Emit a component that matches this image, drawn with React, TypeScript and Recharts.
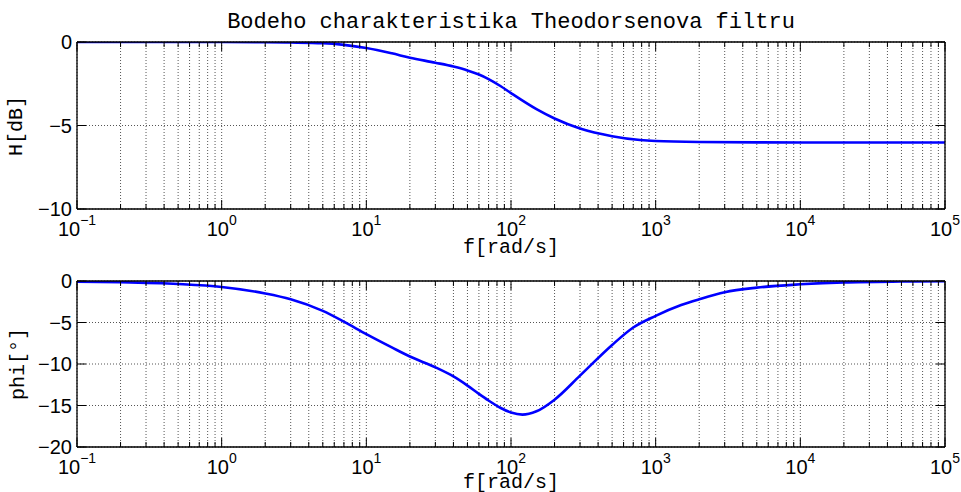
import React from 'react';
import { LineChart, Line, XAxis, YAxis, CartesianGrid } from 'recharts';

// ---- data ----
const magFreq = [0.1, 0.2, 0.5, 1, 2, 3, 5, 7, 10, 15, 20, 30, 40, 50, 60, 70, 85, 100, 150, 200, 300, 500, 780, 1000, 2000, 5000, 10000, 100000];
const magDb = [0, 0, -0.001, -0.004, -0.015, -0.03, -0.07, -0.17, -0.36, -0.68, -0.94, -1.24, -1.47, -1.7, -1.95, -2.22, -2.65, -3.06, -4.02, -4.58, -5.18, -5.64, -5.87, -5.93, -5.99, -6.01, -6.02, -6.02];

const phaseFreq = [0.1, 0.2, 0.5, 1, 2, 3, 5, 7, 10, 15, 20, 30, 40, 50, 60, 70, 85, 100, 120, 150, 200, 300, 500, 700, 1000, 1500, 2000, 3000, 5000, 10000, 20000, 50000, 100000];
const phaseDeg = [-0.07, -0.14, -0.36, -0.72, -1.5, -2.2, -3.6, -4.9, -6.4, -8.0, -9.1, -10.4, -11.5, -12.6, -13.6, -14.4, -15.3, -15.85, -16.1, -15.7, -14.3, -11.4, -7.7, -5.6, -4.2, -2.9, -2.2, -1.35, -0.8, -0.4, -0.16, -0.06, -0.03];

const xDecades = [0.1, 1, 10, 100, 1000, 10000, 100000];
const decadeExponents = ['\u22121', '0', '1', '2', '3', '4', '5'];
const minorMultipliers = [2, 3, 4, 5, 6, 7, 8, 9];
const magTicks = [-10, -5, 0];
const phaseTicks = [-20, -15, -10, -5, 0];

const titleText = 'Bodeho charakteristika Theodorsenova filtru';
const xLabelText = 'f[rad/s]';
const magLabelText = 'H[dB]';
const phaseLabelText = 'phi[\u00b0]';

// ---- derived ----
const xTicks: number[] = [];
xDecades.forEach((d, i) => {
  xTicks.push(d);
  if (i < xDecades.length - 1) minorMultipliers.forEach((m) => xTicks.push(d * m));
});

const magData = magFreq.map((f, i) => ({ f, v: magDb[i] }));
const phaseData = phaseFreq.map((f, i) => ({ f, v: phaseDeg[i] }));

const SANS = 'Liberation Sans, Arial, sans-serif';
const MONO = 'Liberation Mono, DejaVu Sans Mono, monospace';
const MAJOR = 9;
const MINOR = 5;

const fmtY = (v: number) => (v < 0 ? '\u2212' + Math.abs(v) : String(v));

const BottomTick = (props: any) => {
  const { x, y, payload } = props;
  const idx = xDecades.indexOf(payload.value);
  const major = idx >= 0;
  return (
    <g>
      <line x1={x} x2={x} y1={y} y2={y - (major ? MAJOR : MINOR)} stroke="#000" strokeWidth={1} />
      {major && (
        <text x={x} y={y + 27} textAnchor="middle" fontFamily={SANS} fontSize={20} fill="#000">
          <tspan>10</tspan>
          <tspan dy={-11.5} fontSize={14}>{decadeExponents[idx]}</tspan>
        </text>
      )}
    </g>
  );
};

const TopTick = (props: any) => {
  const { x, y, payload } = props;
  const major = xDecades.indexOf(payload.value) >= 0;
  return <line x1={x} x2={x} y1={y} y2={y + (major ? MAJOR : MINOR)} stroke="#000" strokeWidth={1} />;
};

const LeftTick = (props: any) => {
  const { x, y, payload } = props;
  return (
    <g>
      <line x1={x} x2={x + MAJOR} y1={y} y2={y} stroke="#000" strokeWidth={1} />
      <text x={x - 5} y={y} dy="0.36em" textAnchor="end" fontFamily={SANS} fontSize={20} fill="#000">
        {fmtY(payload.value)}
      </text>
    </g>
  );
};

const RightTick = (props: any) => {
  const { x, y } = props;
  return <line x1={x} x2={x - MAJOR} y1={y} y2={y} stroke="#000" strokeWidth={1} />;
};

const Panel = ({ data, yDomain, yTicks, height, margin }: any) => (
  <LineChart width={961} height={height} data={data} margin={margin}>
    <CartesianGrid stroke="#555" strokeDasharray="1 2" strokeWidth={1} />
    <XAxis
      dataKey="f"
      type="number"
      scale="log"
      domain={[0.1, 100000]}
      allowDataOverflow
      ticks={xTicks}
      interval={0}
      height={40}
      tickSize={0}
      tickMargin={0}
      tickLine={false}
      axisLine={{ stroke: '#000', strokeWidth: 1.3 }}
      tick={<BottomTick />}
    />
    <XAxis
      xAxisId="top"
      orientation="top"
      dataKey="f"
      type="number"
      scale="log"
      domain={[0.1, 100000]}
      allowDataOverflow
      ticks={xTicks}
      interval={0}
      height={1}
      tickSize={0}
      tickMargin={0}
      tickLine={false}
      axisLine={{ stroke: '#000', strokeWidth: 1.3 }}
      tick={<TopTick />}
    />
    <YAxis
      type="number"
      domain={yDomain}
      allowDataOverflow
      ticks={yTicks}
      interval={0}
      width={60}
      tickSize={0}
      tickMargin={0}
      tickLine={false}
      axisLine={{ stroke: '#000', strokeWidth: 1.3 }}
      tick={<LeftTick />}
    />
    <YAxis
      yAxisId="right"
      orientation="right"
      type="number"
      domain={yDomain}
      allowDataOverflow
      ticks={yTicks}
      interval={0}
      width={1}
      tickSize={0}
      tickMargin={0}
      tickLine={false}
      axisLine={{ stroke: '#000', strokeWidth: 1.3 }}
      tick={<RightTick />}
    />
    <Line
      dataKey="v"
      type="monotone"
      stroke="#0000ff"
      strokeWidth={2.6}
      dot={false}
      isAnimationActive={false}
    />
  </LineChart>
);

export default function App() {
  return (
    <div style={{ position: 'absolute', left: 0, top: 0, width: 961, height: 492, background: '#fff', overflow: 'hidden' }}>
      <div style={{ position: 'absolute', left: 0, top: 0 }}>
        <Panel
          data={magData}
          yDomain={[-10, 0]}
          yTicks={magTicks}
          height={253}
          margin={{ top: 41, right: 15, bottom: 4, left: 17 }}
        />
      </div>
      <div style={{ position: 'absolute', left: 0, top: 253 }}>
        <Panel
          data={phaseData}
          yDomain={[-20, 0]}
          yTicks={phaseTicks}
          height={239}
          margin={{ top: 27, right: 15, bottom: 5, left: 17 }}
        />
      </div>
      <svg width={961} height={492} style={{ position: 'absolute', left: 0, top: 0, pointerEvents: 'none' }}>
        <text x={511} y={28} textAnchor="middle" fontFamily={MONO} fontSize={22} fill="#000">{titleText}</text>
        <text x={511} y={253} textAnchor="middle" fontFamily={MONO} fontSize={20} fill="#000">{xLabelText}</text>
        <text x={511} y={488} textAnchor="middle" fontFamily={MONO} fontSize={20} fill="#000">{xLabelText}</text>
        <text x={22} y={126} textAnchor="middle" fontFamily={MONO} fontSize={20} fill="#000" transform="rotate(-90 22 126)">{magLabelText}</text>
        <text x={24} y={364} textAnchor="middle" fontFamily={MONO} fontSize={20} fill="#000" transform="rotate(-90 24 364)">{phaseLabelText}</text>
      </svg>
    </div>
  );
}
